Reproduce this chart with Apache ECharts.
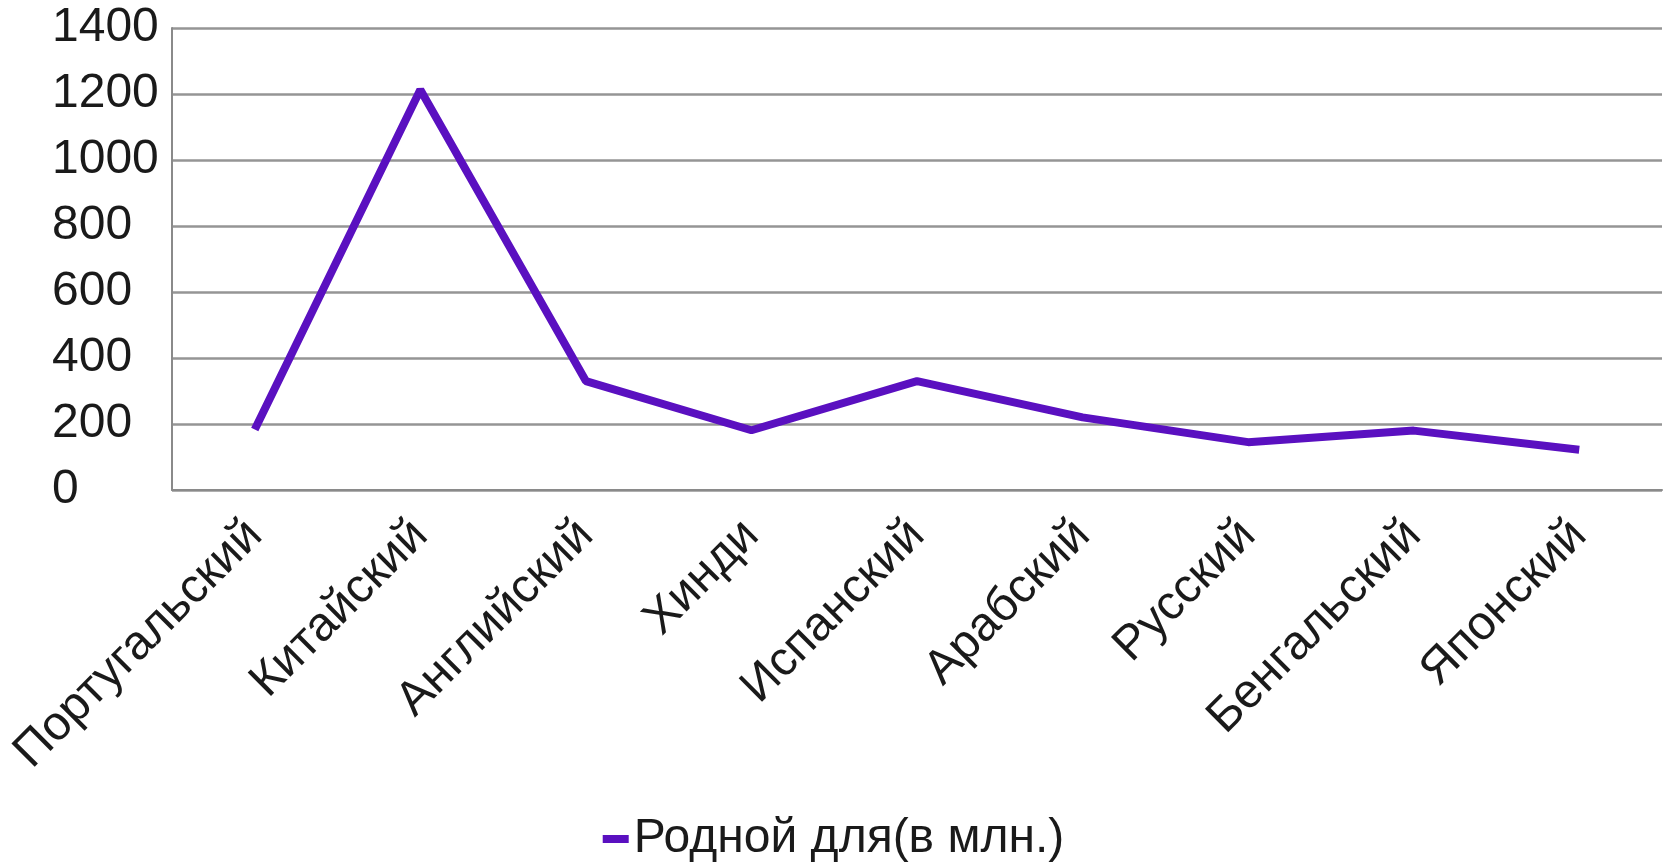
<!DOCTYPE html>
<html>
<head>
<meta charset="utf-8">
<script src="https://cdn.jsdelivr.net/npm/echarts@6/dist/echarts.min.js"></script>
<style>
  html, body { margin: 0; padding: 0; background: #fff; }
  #chart { width: 1667px; height: 862px; }
</style>
</head>
<body>
<div id="chart"></div>
<script>
// языки и число носителей (в млн.)
var languages = ["Португальский", "Китайский", "Английский", "Хинди", "Испанский", "Арабский", "Русский", "Бенгальский", "Японский"];
var nativeSpeakers = [183, 1213, 330, 181, 330, 220, 145, 180, 122];
var seriesName = "Родной для(в млн.)";

var chart = echarts.init(document.getElementById("chart"));
var font = "Liberation Sans, Arial, sans-serif";

var option = {
  animation: false,
  grid: {
    left: 172,
    right: 5,
    top: 28,
    bottom: 372
  },
  legend: {
    data: [seriesName],
    top: 810,
    left: "center",
    icon: "rect",
    itemWidth: 26,
    itemHeight: 8,
    itemGap: 10,
    textStyle: {
      fontFamily: font,
      fontSize: 48,
      color: "#1a1a1a"
    }
  },
  xAxis: {
    type: "category",
    data: languages,
    boundaryGap: true,
    axisLine: { show: true, lineStyle: { color: "#8a8a8a", width: 2 } },
    axisTick: { show: false },
    axisLabel: {
      rotate: 45,
      margin: 38,
      interval: 0,
      fontFamily: font,
      fontSize: 48,
      color: "#1a1a1a"
    }
  },
  yAxis: {
    type: "value",
    min: 0,
    max: 1400,
    interval: 200,
    axisLine: { show: true, lineStyle: { color: "#8a8a8a", width: 2 } },
    axisTick: { show: false },
    splitLine: { lineStyle: { color: "#959595", width: 2.5 } },
    axisLabel: {
      // подписи в оригинале выровнены по левому краю
      align: "left",
      margin: 120,
      fontFamily: font,
      fontSize: 48,
      color: "#1a1a1a",
      formatter: function (v) { return String(v); }
    }
  },
  series: [
    {
      name: seriesName,
      type: "line",
      data: nativeSpeakers,
      showSymbol: false,
      symbol: "none",
      lineStyle: { color: "#5a10c0", width: 8 },
      itemStyle: { color: "#5a10c0" }
    }
  ]
};
chart.setOption(option);
</script>
</body>
</html>
